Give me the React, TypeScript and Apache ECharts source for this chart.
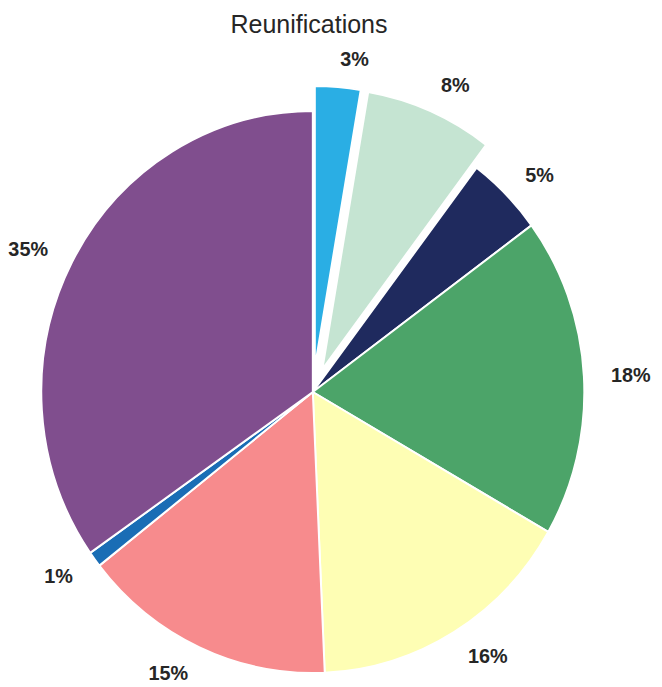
import React, { useEffect, useRef } from "react";
import * as echarts from "echarts";

const categories = ["A", "B", "C", "D", "E", "F", "G", "H"];
const values = [2.7, 7.6, 4.6, 18.4, 16.0, 15.1, 0.9, 34.7];
const exploded = [true, true, false, false, false, false, false, false];
const colors = ["#2aaee4", "#c5e4d2", "#1f2a5e", "#4ca469", "#fefeb4", "#f78b8d", "#1a6db5", "#804e8e"];
const titleText = "Reunifications";

const SX = 0.9662;

export default function App() {
  const wedgeRef = useRef<HTMLDivElement>(null);
  const titleRef = useRef<HTMLDivElement>(null);
  useEffect(() => {
    if (!wedgeRef.current || !titleRef.current) return;
    const wedges = echarts.init(wedgeRef.current, undefined, { renderer: "svg" });
    const titleChart = echarts.init(titleRef.current, undefined, { renderer: "svg" });
    const R = 281;
    wedges.setOption({
      animation: false,
      series: [
        {
          type: "pie",
          center: [312.8 / SX, 392],
          radius: [0, R],
          startAngle: 90,
          clockwise: true,
          selectedMode: "multiple",
          selectedOffset: 25,
          silent: true,
          avoidLabelOverlap: false,
          emphasis: { disabled: true },
          itemStyle: { borderColor: "#ffffff", borderWidth: 2 },
          label: {
            show: true,
            position: "outside",
            alignTo: "none",
            distanceToLabelLine: 0,
            formatter: (p: any) => `${Math.round(p.value)}%`,
            fontFamily: "Liberation Sans",
            fontSize: 20.5,
            fontWeight: "bold",
            color: "#262626",
          },
          labelLine: { show: false, length: R * 0.1, length2: 0 },
          data: categories.map((c, i) => ({
            name: c,
            value: values[i],
            selected: exploded[i],
            itemStyle: { color: colors[i] },
          })),
        },
      ],
    });
    titleChart.setOption({
      animation: false,
      title: {
        text: titleText,
        left: 304,
        top: 6,
        textAlign: "center",
        textStyle: { fontFamily: "Liberation Sans", fontSize: 25, fontWeight: "normal", color: "#262626" },
      },
      series: [],
    });
    return () => {
      wedges.dispose();
      titleChart.dispose();
    };
  }, []);
  return (
    <div style={{ position: "absolute", left: 0, top: 0, width: 662, height: 687, overflow: "hidden", background: "#ffffff" }}>
      <div
        ref={wedgeRef}
        style={{
          position: "absolute",
          left: 0,
          top: 0,
          width: 662 / SX,
          height: 687,
          transform: `scaleX(${SX})`,
          transformOrigin: "0 0",
        }}
      />
      <div ref={titleRef} style={{ position: "absolute", left: 0, top: 0, width: 662, height: 60, pointerEvents: "none" }} />
    </div>
  );
}
